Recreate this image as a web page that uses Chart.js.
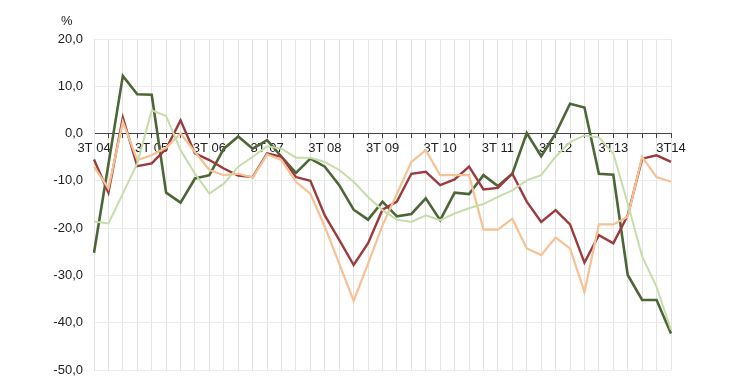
<!DOCTYPE html>
<html>
<head>
<meta charset="utf-8">
<script src="https://cdn.jsdelivr.net/npm/chart.js@4/dist/chart.umd.min.js"></script>
<style>
  html, body { margin: 0; padding: 0; background: #fff; }
  #wrap { width: 740px; height: 389px; position: relative; }
</style>
</head>
<body>
<div id="wrap"><canvas id="chart"></canvas></div>
<script>
// Quarters 3T 04 .. 3T14
const quarters = [
  "3T 04", "4T 04", "1T 05", "2T 05", "3T 05", "4T 05", "1T 06", "2T 06",
  "3T 06", "4T 06", "1T 07", "2T 07", "3T 07", "4T 07", "1T 08", "2T 08",
  "3T 08", "4T 08", "1T 09", "2T 09", "3T 09", "4T 09", "1T 10", "2T 10",
  "3T 10", "4T 10", "1T 11", "2T 11", "3T 11", "4T 11", "1T 12", "2T 12",
  "3T 12", "4T 12", "1T13", "2T13", "3T13", "4T13", "1T14", "2T14", "3T14"
];
// only these are written under the axis
const tickLabels = ["3T 04", "3T 05", "3T 06", "3T 07", "3T 08", "3T 09", "3T 10", "3T 11", "3T 12", "3T13", "3T14"];

const darkGreen = [
  -25.2, -6.5, 12.2, 8.3, 8.2, -12.5, -14.6, -9.5, -8.8, -3.2,
  -0.6, -3.2, -1.4, -4.9, -8.3, -5.3, -7.0, -10.9, -16.1, -18.2,
  -14.4, -17.5, -17.0, -13.7, -18.3, -12.5, -12.8, -8.8, -11.1, -8.5,
  0.1, -4.8, 0.0, 6.3, 5.5, -8.5, -8.7, -29.9, -35.2, -35.2, -42.3
];
const lightGreen = [
  -18.6, -19.0, -12.7, -6.3, 4.9, 3.7, -3.5, -8.5, -12.7, -10.6,
  -7.0, -4.9, -2.7, -3.2, -5.1, -5.1, -6.0, -7.7, -10.2, -13.4,
  -16.2, -18.2, -18.7, -17.3, -18.3, -16.9, -15.8, -14.9, -13.4, -12.0,
  -9.9, -8.8, -4.9, -1.8, -0.4, -0.8, -4.2, -14.8, -26.0, -32.4, -41.5
];
const darkRed = [
  -5.5, -12.5, 3.4, -6.9, -6.3, -3.2, 2.8, -4.2, -5.6, -7.4,
  -8.9, -9.2, -4.2, -4.9, -9.2, -10.0, -17.3, -22.5, -27.8, -23.2,
  -16.1, -14.4, -8.5, -8.1, -10.9, -9.7, -7.0, -11.8, -11.5, -8.5,
  -14.4, -18.7, -16.2, -19.2, -27.3, -21.5, -23.2, -17.3, -5.3, -4.6, -6.0
];
const lightOrange = [
  -7.0, -11.6, 2.5, -5.6, -4.6, -3.0, 0.0, -3.9, -7.7, -8.8,
  -8.5, -9.3, -4.4, -5.6, -10.2, -12.7, -19.7, -27.5, -35.4, -27.5,
  -19.4, -12.7, -6.0, -3.5, -8.8, -8.8, -8.8, -20.3, -20.3, -18.0,
  -24.3, -25.7, -22.0, -24.3, -33.5, -19.2, -19.2, -17.6, -4.9, -9.2, -10.2
];

const yTicks = [20, 10, 0, -10, -20, -30, -40, -50];

// "%" above the value axis
const percentLabel = {
  id: "percentLabel",
  afterDraw(chart) {
    const ctx = chart.ctx;
    ctx.save();
    ctx.font = "13px 'Liberation Sans', Arial, sans-serif";
    ctx.fillStyle = "#222";
    ctx.textAlign = "left";
    ctx.textBaseline = "middle";
    ctx.fillText("%", chart.chartArea.left - 33, chart.chartArea.top - 18);
    ctx.restore();
  }
};

function line(data, color, width) {
  return {
    data: data,
    borderColor: color,
    borderWidth: width,
    pointRadius: 0,
    tension: 0,
    fill: false
  };
}

new Chart(document.getElementById("chart"), {
  type: "line",
  data: {
    labels: quarters,
    datasets: [
      line(lightGreen, "#c5dda8", 2),
      line(lightOrange, "#f6c193", 2.2),
      line(darkRed, "#9c3b3e", 2.4),
      line(darkGreen, "#4d6637", 2.6)
    ]
  },
  options: {
    responsive: true,
    maintainAspectRatio: false,
    animation: false,
    layout: { padding: { top: 39, right: 69, bottom: 19, left: 0 } },
    plugins: {
      legend: { display: false },
      tooltip: { enabled: false }
    },
    scales: {
      x: {
        position: { y: 0 },
        offset: false,
        grid: {
          color: "#e4e4e4",
          lineWidth: 1,
          tickLength: 4,
          tickColor: "#444"
        },
        border: { color: "#444", width: 1 },
        ticks: {
          autoSkip: false,
          maxRotation: 0,
          padding: 3,
          color: "#222",
          font: { family: "'Liberation Sans', Arial, sans-serif", size: 13 },
          callback: function (value, index) {
            const lab = quarters[index];
            return tickLabels.includes(lab) ? lab : "";
          }
        }
      },
      y: {
        min: -50,
        max: 20,
        afterFit(scale) { scale.width = 94; },
        afterBuildTicks(scale) {
          scale.ticks = yTicks.map(v => ({ value: v }));
        },
        grid: {
          color: ctx => (ctx.tick && ctx.tick.value === 0 ? "#444" : "#ececec"),
          drawTicks: false
        },
        border: { color: "#e4e4e4" },
        ticks: {
          padding: 11,
          color: "#222",
          font: { family: "'Liberation Sans', Arial, sans-serif", size: 13 },
          callback: v => v.toFixed(1).replace(".", ",")
        }
      }
    }
  },
  plugins: [percentLabel]
});
</script>
</body>
</html>
